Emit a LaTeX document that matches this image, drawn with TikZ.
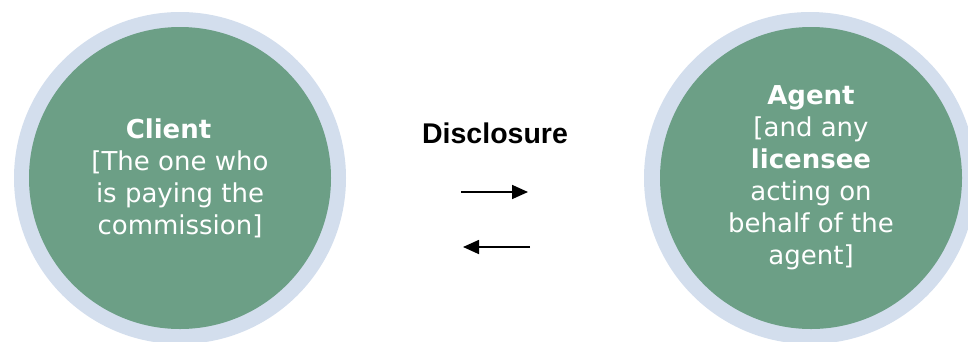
\documentclass[tikz,border=0pt]{standalone}
\usepackage{fontspec}
\setmainfont{DejaVu Sans}
\newfontfamily\headfont{Liberation Sans}
\usetikzlibrary{arrows.meta}
\definecolor{ringblue}{RGB}{211,222,237}
\definecolor{partygreen}{RGB}{108,159,134}
\begin{document}
\begin{tikzpicture}[x=1pt,y=-1pt,
  ring/.style={circle,fill=ringblue,draw=none,minimum size=332pt,inner sep=0pt},
  disc/.style={circle,fill=partygreen,draw=none,minimum size=302pt,inner sep=0pt},
  party/.style={align=center,text=white,font=\fontsize{26}{32}\selectfont,inner sep=0pt},
  flow/.style={line width=1.7pt,-{Triangle[length=16pt,width=14pt]}}]
  \useasboundingbox (0,0) rectangle (968,341);
  \clip (0,0) rectangle (968,341);

  % client circle
  \node[ring] (clientring) at (180,178) {};
  \node[disc] (clientdisc) at (180,178) {};
  \node[party] (client) at (180,178)
    {\textbf{Client}\hspace*{23pt}\\{}[The one who\\is paying the\\commission]};

  % agent circle
  \node[ring] (agentring) at (810,178) {};
  \node[disc] (agentdisc) at (811,178) {};
  \node[party] (agent) at (811,177.5)
    {\textbf{Agent}\\{}[and any\\\textbf{licensee}\\acting on\\behalf of the\\agent]};

  % disclosure label and arrows
  \node[font=\headfont\bfseries\fontsize{28.5}{32}\selectfont,anchor=base,inner sep=0pt]
    (disclosure) at (495,143) {Disclosure};
  \coordinate (toA0) at (461,192);
  \coordinate (toA1) at (528,192);
  \coordinate (toC0) at (530,247);
  \coordinate (toC1) at (463,247);
  \draw[flow] (toA0) -- (toA1);
  \draw[flow] (toC0) -- (toC1);
\end{tikzpicture}
\end{document}
